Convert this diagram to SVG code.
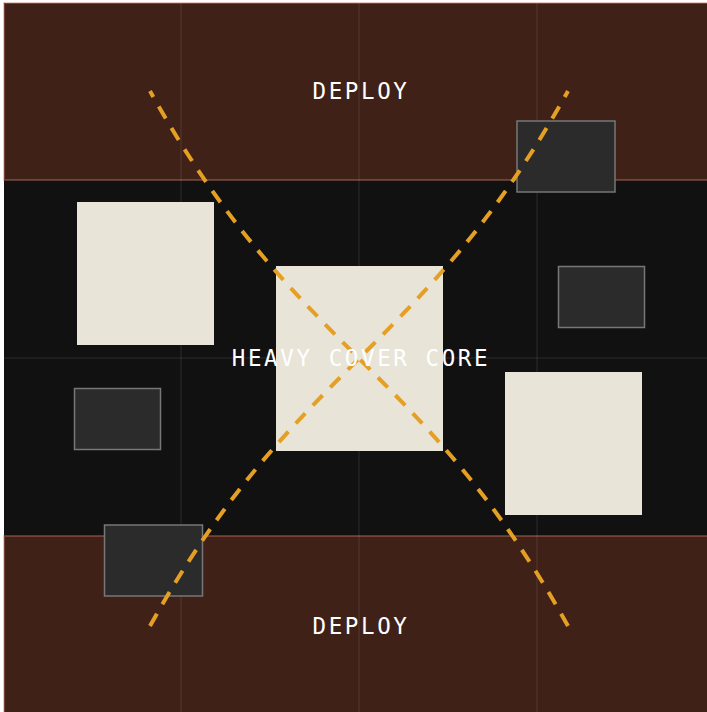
<svg xmlns="http://www.w3.org/2000/svg" width="707" height="712" viewBox="0 0 707 712">
  <defs>
    <style>
      .deploy { fill: #3f2118; stroke: rgba(205,120,100,0.4); stroke-width: 2; }
      .grid line { stroke: rgba(255,255,255,0.11); stroke-width: 1; }
      .heavy { fill: #e8e4d8; }
      .light { fill: #2b2b2b; stroke: #777777; stroke-width: 1.5; }
      .sight { fill: none; stroke: #e5a024; stroke-width: 4; stroke-dasharray: 14 11; }
      .label { font-family: "DejaVu Sans Mono", "Liberation Mono", monospace; font-size: 22.5px; letter-spacing: 2.6px; fill: #ffffff; text-anchor: middle; dominant-baseline: central; }
    </style>
  </defs>
  <rect x="0" y="0" width="707" height="712" fill="#ffffff"/>
  <rect id="board" x="4" y="3" width="720" height="720" fill="#111111"/>
  <g id="deploy-top">
    <rect class="deploy" x="4" y="3" width="720" height="177"/>
  </g>
  <g id="deploy-bottom">
    <rect class="deploy" x="4" y="536" width="720" height="190"/>
  </g>
  <g id="grid" class="grid">
    <line x1="181" y1="3" x2="181" y2="712"/>
    <line x1="359" y1="3" x2="359" y2="712"/>
    <line x1="537" y1="3" x2="537" y2="712"/>
    <line x1="4" y1="358" x2="707" y2="358"/>
  </g>
  <g id="heavy-left"><rect class="heavy" x="77" y="202" width="137" height="143"/></g>
  <g id="heavy-center"><rect class="heavy" x="276" y="266" width="167" height="185"/></g>
  <g id="heavy-right"><rect class="heavy" x="505" y="372" width="137" height="143"/></g>
  <g id="light-top-right"><rect class="light" x="517" y="121" width="98" height="71"/></g>
  <g id="light-mid-right"><rect class="light" x="558.5" y="266.5" width="86" height="61"/></g>
  <g id="light-mid-left"><rect class="light" x="74.5" y="388.5" width="86" height="61"/></g>
  <g id="light-bottom-left"><rect class="light" x="104.5" y="525" width="98" height="71"/></g>
  <g id="sightlines">
    <path class="sight" d="M568,626 C422,363 296,354 150,91"/>
    <path class="sight" d="M150,626 C296,363 422,354 568,91"/>
  </g>
  <g id="labels">
    <text class="label" x="361" y="91">DEPLOY</text>
    <text class="label" x="361" y="358">HEAVY COVER CORE</text>
    <text class="label" x="361" y="626">DEPLOY</text>
  </g>
</svg>
